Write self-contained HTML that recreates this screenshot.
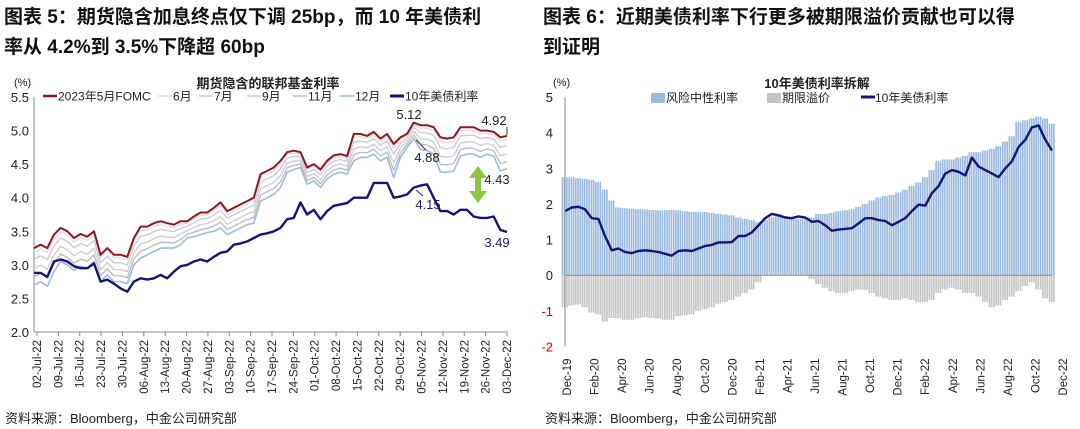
<!DOCTYPE html>
<html><head><meta charset="utf-8">
<style>
body{margin:0;background:#fff;width:1080px;height:429px;overflow:hidden;font-family:"Liberation Sans","Noto Sans CJK SC",sans-serif;}
.t{position:absolute;font-weight:bold;font-size:19px;color:#111;line-height:30px;}
.src{position:absolute;font-size:13px;color:#222;top:408px;}
</style></head><body>
<div class="t" style="left:4px;top:3px;">图表 5：期货隐含加息终点仅下调 25bp，而 10 年美债利<br>率从 4.2%到 3.5%下降超 60bp</div>
<div class="t" style="left:543px;top:3px;">图表 6：近期美债利率下行更多被期限溢价贡献也可以得<br>到证明</div>
<div class="src" style="left:5px;">资料来源：Bloomberg，中金公司研究部</div>
<div class="src" style="left:545px;">资料来源：Bloomberg，中金公司研究部</div>
<svg id="c" width="1080" height="429" style="position:absolute;left:0;top:0"></svg>
<script>
const leftDates=["02-Jul-22","09-Jul-22","16-Jul-22","23-Jul-22","30-Jul-22","06-Aug-22","13-Aug-22","20-Aug-22","27-Aug-22","03-Sep-22","10-Sep-22","17-Sep-22","24-Sep-22","01-Oct-22","08-Oct-22","15-Oct-22","22-Oct-22","29-Oct-22","05-Nov-22","12-Nov-22","19-Nov-22","26-Nov-22","03-Dec-22"];
const leftTicks=[2.0,2.5,3.0,3.5,4.0,4.5,5.0,5.5];
const fomcMay=[3.25,3.3,3.25,3.45,3.55,3.5,3.4,3.46,3.42,3.5,3.15,3.25,3.15,3.15,3.12,3.4,3.57,3.57,3.62,3.65,3.62,3.6,3.65,3.65,3.72,3.78,3.78,3.85,3.93,3.8,3.85,3.9,3.95,4.0,4.35,4.4,4.45,4.55,4.68,4.7,4.68,4.45,4.5,4.42,4.55,4.63,4.65,4.62,4.95,4.95,4.92,4.98,4.88,4.95,4.8,4.9,4.95,5.12,5.08,5.08,5.05,4.9,4.88,4.9,5.05,5.05,5.05,5.0,5.0,4.98,4.9,4.92];
const fomcDec=[2.7,2.75,2.68,2.9,3.05,3.0,2.92,2.98,2.95,3.05,2.75,2.85,2.75,2.75,2.72,3.0,3.1,3.15,3.2,3.25,3.25,3.25,3.3,3.4,3.42,3.45,3.48,3.5,3.55,3.45,3.5,3.55,3.6,3.62,3.95,4.0,4.05,4.15,4.38,4.42,4.45,4.2,4.25,4.15,4.28,4.35,4.38,4.35,4.55,4.6,4.6,4.65,4.55,4.6,4.3,4.6,4.75,4.88,4.72,4.7,4.65,4.38,4.38,4.4,4.62,4.65,4.65,4.6,4.65,4.62,4.4,4.43];
const ust10y=[2.88,2.88,2.82,3.05,3.08,3.05,2.98,2.95,2.95,3.02,2.75,2.78,2.72,2.65,2.6,2.75,2.8,2.78,2.8,2.85,2.8,2.9,2.98,3.0,3.05,3.08,3.05,3.12,3.18,3.2,3.3,3.32,3.35,3.4,3.45,3.47,3.5,3.55,3.68,3.7,3.93,3.75,3.82,3.68,3.8,3.88,3.9,3.92,4.0,4.0,4.0,4.22,4.22,4.22,4.0,4.02,4.05,4.15,4.18,4.2,4.0,3.8,3.8,3.75,3.82,3.82,3.72,3.7,3.7,3.72,3.52,3.49];
const midWeights=[0.12,0.3,0.55,0.78];
const midColors=["#e2dce8","#d4c6dc","#cfcfcf","#bdbdbd"];

const rightDates=["Dec-19","Feb-20","Apr-20","Jun-20","Aug-20","Oct-20","Dec-20","Feb-21","Apr-21","Jun-21","Aug-21","Oct-21","Dec-21","Feb-22","Apr-22","Jun-22","Aug-22","Oct-22","Dec-22"];
const rightTicks=[-2,-1,0,1,2,3,4,5];
const riskNeutral=[2.75,2.75,2.72,2.7,2.68,2.62,2.4,2.1,1.9,1.88,1.87,1.85,1.85,1.83,1.82,1.82,1.83,1.82,1.8,1.78,1.78,1.77,1.75,1.72,1.7,1.68,1.62,1.58,1.55,1.5,1.55,1.62,1.68,1.65,1.6,1.58,1.6,1.62,1.72,1.72,1.75,1.8,1.82,1.85,1.92,2.0,2.1,2.18,2.22,2.25,2.32,2.4,2.5,2.6,2.75,2.95,3.2,3.25,3.25,3.3,3.35,3.45,3.45,3.5,3.55,3.62,3.75,3.9,4.3,4.35,4.4,4.45,4.4,4.25];
const termPremium=[-0.9,-0.85,-0.82,-0.9,-1.05,-1.1,-1.3,-1.2,-1.2,-1.25,-1.25,-1.2,-1.18,-1.2,-1.22,-1.25,-1.25,-1.15,-1.12,-1.1,-1.0,-0.95,-0.9,-0.8,-0.75,-0.7,-0.6,-0.5,-0.4,-0.2,0.05,0.1,0.05,0.05,0.03,0.05,0.02,-0.1,-0.25,-0.35,-0.45,-0.5,-0.5,-0.45,-0.4,-0.42,-0.5,-0.6,-0.65,-0.7,-0.7,-0.65,-0.7,-0.75,-0.75,-0.7,-0.5,-0.4,-0.35,-0.4,-0.5,-0.5,-0.6,-0.75,-0.9,-0.85,-0.7,-0.6,-0.45,-0.3,-0.2,-0.4,-0.65,-0.75];
const yield10=[1.8,1.9,1.92,1.85,1.6,1.58,1.1,0.7,0.75,0.65,0.62,0.68,0.7,0.68,0.65,0.6,0.55,0.68,0.7,0.68,0.75,0.82,0.85,0.92,0.92,0.93,1.1,1.1,1.2,1.4,1.6,1.72,1.68,1.62,1.6,1.65,1.62,1.5,1.52,1.4,1.25,1.28,1.3,1.32,1.45,1.6,1.6,1.55,1.52,1.4,1.5,1.6,1.8,1.98,1.95,2.3,2.5,2.85,2.95,2.9,2.8,3.3,3.05,2.95,2.85,2.75,3.0,3.2,3.6,3.8,4.15,4.2,3.8,3.5];

const svg=document.getElementById('c');const NS='http://www.w3.org/2000/svg';
function mk(tag,at,name,parent){const e=document.createElementNS(NS,tag);for(const k in at)e.setAttribute(k,at[k]);


(parent||svg).appendChild(e);return e;}
function txt(x,y,s,name,st){const e=mk('text',Object.assign({x:x,y:y,'font-size':12,fill:'#222','font-family':'Liberation Sans, Noto Sans CJK SC, sans-serif'},st||{}),name);e.textContent=s;return e;}
function line(xs,ys,vals,color,w,name){mk('polyline',{points:vals.map((v,i)=>xs(i).toFixed(1)+','+ys(v).toFixed(1)).join(' '),fill:'none',stroke:color,'stroke-width':w,'stroke-linejoin':'round'},name);}

// LEFT CHART
const L={x0:34,x1:507,y0:332,y1:97,v0:2,v1:5.5};
const lx=i=>L.x0+(L.x1-L.x0)*i/(fomcMay.length-1);
const ly=v=>L.y0+(v-L.v0)/(L.v1-L.v0)*(L.y1-L.y0);
mk('line',{x1:L.x0,y1:L.y1,x2:L.x0,y2:L.y0,stroke:'#888'},'left-y-axis');
mk('line',{x1:L.x0,y1:L.y0,x2:L.x1,y2:L.y0,stroke:'#888'},'left-x-axis');
leftTicks.forEach(v=>{txt(29,ly(v)+5,v.toFixed(1),'left-y-tick-label',{'text-anchor':'end','font-size':13});});
leftDates.forEach((d,i)=>{const x=L.x0+3+(L.x1-L.x0-3)*i/(leftDates.length-1);
mk('line',{x1:x,y1:L.y0,x2:x,y2:L.y0+4,stroke:'#888'},'left-x-tick');
txt(x+4,L.y0+8,d,'left-x-tick-label',{'text-anchor':'end',transform:`rotate(-90 ${x+4} ${L.y0+8})`,'font-size':11.5});});
line(lx,ly,fomcDec,'#9dbbdf',1.6,'line-dec-fomc');
midWeights.slice().reverse().forEach((w,j)=>{const k=midWeights.length-1-j;line(lx,ly,fomcMay.map((v,i)=>v-(v-fomcDec[i])*w),midColors[k],1.4,'line-mid-fomc');});
line(lx,ly,fomcMay,'#8b1a1a',2,'line-may-fomc');
line(lx,ly,ust10y,'#14147a',2.4,'line-ust-10y');
txt(14,86,'(%)','left-y-unit',{'font-size':11});
txt(268,88,'期货隐含的联邦基金利率','left-chart-title',{'text-anchor':'middle','font-weight':'bold','font-size':13});
const leg=[['2023年5月FOMC','#8b1a1a',2.5,43],['6月','#e2dce8',1.5,158],['7月','#d4c6dc',1.5,199],['9月','#cfcfcf',1.5,247],['11月','#bdbdbd',1.5,293],['12月','#9dbbdf',1.5,340],['10年美债利率','#14147a',3,390]];
leg.forEach(l=>{mk('line',{x1:l[3],y1:96,x2:l[3]+14,y2:96,stroke:l[1],'stroke-width':l[2]},'left-legend-swatch');txt(l[3]+15,100.5,l[0],'left-legend-entry',{'font-size':12});});
[['5.12',409,119],['4.92',494,125],['4.88',427,162],['4.43',497,184],['4.15',428,209],['3.49',497,247]].forEach((a,i)=>txt(a[1],a[2],a[0],'left-annotation',{'text-anchor':'middle','font-size':13,fill:i>=4?'#1a1a80':'#222'}));
mk('line',{x1:507,y1:127,x2:507,y2:135,stroke:'#333'},'annotation-leader');
mk('line',{x1:416,y1:140,x2:426,y2:150,stroke:'#333'},'annotation-leader');
mk('line',{x1:416,y1:190,x2:423,y2:196,stroke:'#333'},'annotation-leader');
mk('path',{d:'M478,166 L469,178 L475,178 L475,191 L469,191 L478,203 L487,191 L481,191 L481,178 L487,178 Z',fill:'#8cc63f'},'green-gap-arrow');

// RIGHT CHART
const R={x0:565,x1:1052,y0:346.5,y1:97,v0:-2,v1:5};
const rx=i=>R.x0+(R.x1-R.x0)*i/(riskNeutral.length-1);
const ry=v=>R.y0+(v-R.v0)/(R.v1-R.v0)*(R.y1-R.y0);
const bw=(R.x1-R.x0)/(riskNeutral.length-1);
riskNeutral.forEach((v,i)=>{for(let s=0;s<3;s++){const x=rx(i)-bw/2+s*bw/3;
mk('rect',{x:x.toFixed(1),y:ry(v).toFixed(1),width:(bw/3-0.6).toFixed(2),height:(ry(0)-ry(v)).toFixed(1),fill:'#9ab9dd'},'risk-neutral-bar');}});
termPremium.forEach((v,i)=>{for(let s=0;s<3;s++){const x=rx(i)-bw/2+s*bw/3;const y=Math.min(ry(v),ry(0)),h=Math.abs(ry(v)-ry(0));
mk('rect',{x:x.toFixed(1),y:y.toFixed(1),width:(bw/3-0.6).toFixed(2),height:h.toFixed(1),fill:'#c4c4c4'},'term-premium-bar');}});
line(rx,ry,yield10,'#14147a',2.4,'line-10y-yield');
mk('line',{x1:R.x0,y1:R.y1,x2:R.x0,y2:R.y0,stroke:'#888'},'right-y-axis');
mk('line',{x1:R.x0,y1:ry(0),x2:R.x1,y2:ry(0),stroke:'#888'},'right-zero-axis');
rightTicks.forEach(v=>txt(553,ry(v)+5,String(v),'right-y-tick-label',{'text-anchor':'end','font-size':13,fill:v<0?'#d00':'#222'}));
rightDates.forEach((d,i)=>{const x=567+(1063-567)*i/(rightDates.length-1);
txt(x+4,R.y0+12,d,'right-x-tick-label',{'text-anchor':'end',transform:`rotate(-90 ${x+4} ${R.y0+12})`,'font-size':11.5});});
txt(553,86,'(%)','right-y-unit',{'font-size':11});
txt(817,88,'10年美债利率拆解','right-chart-title',{'text-anchor':'middle','font-weight':'bold','font-size':13});
mk('rect',{x:651,y:93,width:14,height:10,fill:'#9ab9dd'},'right-legend-swatch');txt(666,102,'风险中性利率','right-legend-entry',{'font-size':12});
mk('rect',{x:767,y:93,width:14,height:10,fill:'#c4c4c4'},'right-legend-swatch');txt(782,102,'期限溢价','right-legend-entry',{'font-size':12});
mk('line',{x1:861,y1:97,x2:875,y2:97,stroke:'#14147a','stroke-width':3},'right-legend-swatch');txt(875,102,'10年美债利率','right-legend-entry',{'font-size':12});
</script>
</body></html>
